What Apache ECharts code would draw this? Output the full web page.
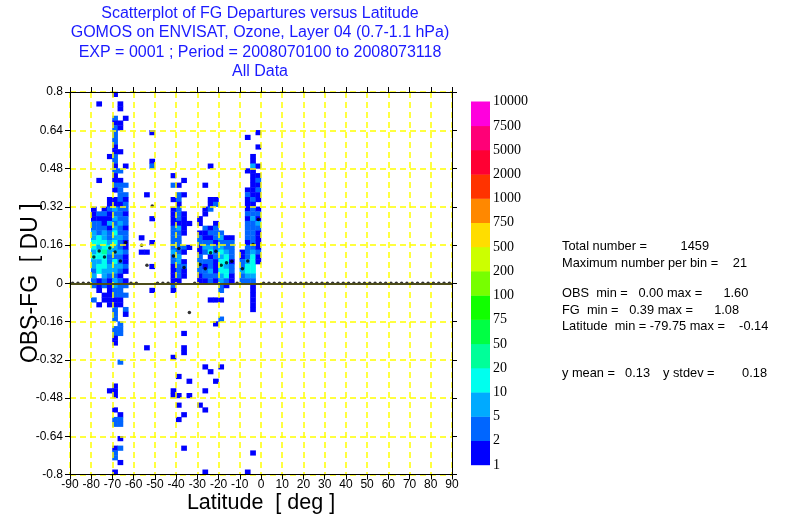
<!DOCTYPE html>
<html>
<head>
<meta charset="utf-8">
<script src="https://cdn.jsdelivr.net/npm/echarts@6/dist/echarts.min.js"></script>
<style>
html, body { margin: 0; padding: 0; background: #fff; }
#main { width: 791px; height: 518px; }
</style>
</head>
<body>
<div id="main"></div>
<script>
// latitude bins (lower edge, deg) that hold observations, 2.5 deg wide
var latBins = [-80, -77.5, -75, -72.5, -70, -67.5, -65, -57.5, -55, -52.5,
    -42.5, -40, -37.5, -35, -30, -27.5, -25, -22.5, -20, -17.5, -15, -10, -7.5, -5, -2.5];
// centre of the first (highest) OBS-FG bin of each column, bins 0.02 DU, going down
var depTop = [0.31, 0.75, 0.31, 0.53, 0.79, 0.75, 0.69, 0.19, 0.37, 0.63,
    0.45, 0.41, 0.43, 0.25, 0.27, 0.41, 0.49, 0.35, 0.21, 0.19, 0.19, 0.13, 0.61, 0.53, 0.63];
// number of obs per bin, one list per latitude column
var binCounts = [
    [1,1,1,3,3,7,7,13,13,7,13,7,7,3,7,3,3,0,0,3],
    [1,0,0,0,0,0,0,0,0,0,0,0,0,0,0,0,1,0,0,0,0,0,0,3,1,3,3,3,13,13,7,13,13,7,13,13,0,1,1,1,0,0,1],
    [1,3,1,1,3,7,7,13,13,22,13,13,13,7,7,3,3,0,1,1],
    [1,0,0,0,0,0,0,0,0,1,1,3,1,1,7,1,3,3,7,13,7,3,3,7,7,3,1,1,1,1,1,1,0,0,0,0,0,0,0,0,0,0,0,0,0,0,0,0,0,1],
    [1,0,0,0,0,3,1,3,3,3, 3,1,1,3,3,1,3,1,1,3, 1,0,1,1,7,3,7,3,7,13, 7,13,7,7,3,13,7,7,3,7,
     7,3,3,1,1,3,3,3,0,3, 3,1,1,0,0,0,0,0,0,0, 0,1,1,1,0,0,1,0,3,3, 0,0,0,0,1,3,3,0,0,1],
    [1,1,0,0,1,1,0,0,0,0, 1,0,0,0,3,0,1,3,3,3, 3,1,3,3,3,7,3,3,7,3, 3,7,3,3,7,3,1,3,3,3,
     3,1,1,0,0,0,3,3,3,0, 0,0,0,0,3,0,0,0,0,0, 0,0,0,0,0,1,3,3,0,0, 1,0,3,0,0,1],
    [1,0,0,0,0,0,0,0,0,0, 1,0,0,0,3,0,3,1,3,3, 1,3,3,1,3,3,1,1,3,1, 1,3,1,0,1,3,0,3,0,0,3,1],
    [1,0,0,1],
    [1,0,0,0,0,0,0,0,0,0,0,0,1,0,0,0,0,0,0,0,0,0,0,0,0,0,0,0,0,0,0,0,1],
    [1,0,0,0,0,0,1,3,0,0,0,0,0,0,0,0,0,0,1,0,0,0,0,1,0,0,0,0,1,0,0,0,0,1],
    [1,0,3,0,0,1,0,1,1,1,1,3,3,3,3,3,7,3,3,1,1,1,1,3,1,0,0,0,0,0,0,0,0,0,0,0,0,0,1,0,0,0,0,0,0,1,1],
    [1,0,3,3,1,3,3,3,1,7,3,3,3,3,3,7,7,3,3,3,1,0,0,0,0,0,0,0,0,0,0,0,0,0,0,0,0,0,0,0,1,0,0,0,1,0,1,0,0,1],
    [1,0,0,1,0,0,0,1,1,1,1,1,0,0,3,1,0,1,3,1,1,0,0,0,0,0,0,0,0,0,0,0,1,0,0,1,1,0,0,0,0,0,0,0,0,0,0,0,0,1,0,0,0,0,0,0,1],
    [1,0,0,0,0,1,0,0,0,0,0,0,0,0,0,0,0,0,0,0,0,0,0,0,0,0,0,0,0,0,0,0,0,1,0,0,1],
    [1,1,0,1,3,3,1,1,3,3,3,3,1,1,0,0,0,0,0,0,0,0,0,0,0,0,0,0,0,0,0,0,0,0,0,0,0,0,0,1],
    [1,0,0,0,0,1,1,0,0,3,1,1,3,7,3,0,3,1,3,3,1,0,0,0,0,0,0,0,0,0,0,0,0,0,0,0,0,0,1,0,0,0,0,1,0,0,0,1,0,0,0,0,0,0,0,0,0,0,0,0,1],
    [1,0,0,0,0,0,0,1,1,3,0,0,0,1,3,1,3,7,13,1,3,3,7,3,3,0,0,0,1,0,0,0,0,0,0,0,0,0,0,0,0,0,0,1],
    [1,3,0,0,0,1,3,3,3,1,3,3,3,1,1,1,3,1,0,0,0,1,0,0,0,0,1,0,0,0,0,0,0,0,0,0,0,0,1],
    [3,7,3,7,13,7,13,13,13,7,7,3,3,0,1,0,0,0,3,0,0,0,0,0,0,0,0,0,1],
    [1,3,3,7,13,13,7,13,13,3,1],
    [1,3,3,3,3,1,3,3,1,1],
    [1,1,3,3,7,3,3],
    [1,0,0,0,0,0,0,1,0,0,0,1,3,1,1,1,3,1,3,3,3,3,1,3,3,3,7,13,13,7,3,
     0,0,0,0,0,0,0,0,0,0,0,0,0,0,0,0,0,0,0,0,0,0,0,0,0,0,0,0,0,0,0,0,0,0,0,0,0,0,0,1],
    [1,1,7,1,1,1,1,1,1,3,1,3,3,7,3,3,3,3,3,3,7,13,13,13,13,7,3,1,1,1,1,1,1,
     0,0,0,0,0,0,0,0,0,0,0,0,0,0,0,0,0,0,0,0,0,0,0,0,0,0,0,0,0,1],
    [1,0,0,1,0,0,0,1,0,1,3,1,3,1,1,0,1,3,1,7,3,1,1,1,1,3,1,1]
];
// mean OBS-FG per 2.5 deg latitude bin, -90 .. 90
var meanDep = [0, 0, 0, 0, 0.11, 0.135, 0.11, 0.147, 0.131, 0.093, 0.17, 0, 0, 0.159, 0.075, 0.323,
    0, 0, 0, 0.114, 0.145, 0.066, -0.122, 0, 0.078, 0.061, 0.128, 0.134, 0.075, 0.086, 0.092, 0,
    0.061, 0.093, 0.162, 0.267, 0, 0, 0, 0, 0, 0, 0, 0, 0, 0, 0, 0,
    0, 0, 0, 0, 0, 0, 0, 0, 0, 0, 0, 0, 0, 0, 0, 0, 0, 0, 0, 0, 0, 0, 0, 0];
// colour scale
var levelLimits = [1, 2, 5, 10, 20, 50, 75, 100, 200, 500, 750, 1000, 2000, 5000, 7500, 10000];
var levelColors = ['#0000ff', '#0066ff', '#00aaff', '#00ffee', '#00ff99', '#00ff44', '#11ff00', '#77ff00',
    '#ccff00', '#ffdd00', '#ff8800', '#ff3300', '#ff0033', '#ff0077', '#ff00dd'];

var latStep = 2.5;
var depStep = 0.02;

var cells = [];
latBins.forEach(function (lat, c) {
    binCounts[c].forEach(function (n, i) {
        if (n > 0) {
            cells.push([lat + latStep / 2, +(depTop[c] - depStep * i).toFixed(3), n]);
        }
    });
});

var means = meanDep.map(function (v, j) {
    return [-90 + latStep * (j + 0.5), v];
});

function levelColor(n) {
    var k = 0;
    while (k < levelColors.length - 1 && n >= levelLimits[k + 1]) k++;
    return levelColors[k];
}

var font = 'Liberation Sans, Arial, sans-serif';

function txt(s, x, y, align, size, color) {
    return {
        type: 'text',
        x: x,
        y: y,
        style: {
            text: s,
            font: (size || 12.8) + 'px ' + font,
            fill: color || '#000',
            textAlign: align || 'left',
            textVerticalAlign: 'middle'
        }
    };
}

var dom = document.getElementById('main');
var myChart = echarts.init(dom, null, {
    renderer: 'canvas',
    useDirtyRect: false
});

var option;

option = {
    animation: false,
    backgroundColor: '#fff',
    grid: [
        { left: 70, right: 339, top: 92, bottom: 43.5, outerBoundsMode: 'none' },
        { left: 471, width: 19, top: 101.7, height: 363.3, outerBoundsMode: 'none' }
    ],
    xAxis: [
        {
            gridIndex: 0, type: 'value', min: -90, max: 90, interval: 10, position: 'bottom', z: 5,
            axisLine: { onZero: false, lineStyle: { color: '#000', width: 1 } },
            axisTick: { show: true, inside: false, length: 5, lineStyle: { color: '#000' } },
            axisLabel: { color: '#000', fontSize: 12, fontFamily: font, margin: 4 },
            splitLine: { show: true, lineStyle: { color: '#ffff00', width: 1.5, type: [6, 4] } },
            name: 'Latitude  [ deg ]', nameLocation: 'middle', nameGap: 18, nameMoveOverlap: false,
            nameTextStyle: { color: '#000', fontSize: 21.5, fontFamily: font }
        },
        {
            gridIndex: 0, type: 'value', min: -90, max: 90, interval: 10, position: 'top', z: 5,
            axisLine: { onZero: false, lineStyle: { color: '#000', width: 1 } },
            axisTick: { show: true, inside: false, length: 5, lineStyle: { color: '#000' } },
            axisLabel: { show: false },
            splitLine: { show: false }
        },
        { gridIndex: 1, type: 'value', min: 0, max: 1, show: false }
    ],
    yAxis: [
        {
            gridIndex: 0, type: 'value', min: -0.8, max: 0.8, interval: 0.16, position: 'left', z: 5,
            axisLine: { onZero: false, lineStyle: { color: '#000', width: 1 } },
            axisTick: { show: true, inside: false, length: 5, lineStyle: { color: '#000' } },
            axisLabel: {
                color: '#000', fontSize: 12, fontFamily: font, margin: 7,
                formatter: function (v) { return String(+v.toFixed(2)); }
            },
            splitLine: { show: true, lineStyle: { color: '#ffff00', width: 1.5, type: [6, 4] } },
            name: 'OBS-FG  [ DU ]', nameLocation: 'middle', nameGap: 28, nameMoveOverlap: false,
            nameTextStyle: { color: '#000', fontSize: 23, fontFamily: font }
        },
        {
            gridIndex: 0, type: 'value', min: -0.8, max: 0.8, interval: 0.16, position: 'right', z: 5,
            axisLine: { onZero: false, lineStyle: { color: '#000', width: 1 } },
            axisTick: { show: true, inside: false, length: 5, lineStyle: { color: '#000' } },
            axisLabel: { show: false },
            splitLine: { show: false }
        },
        {
            gridIndex: 1, type: 'value', min: 0, max: 15, interval: 1, position: 'right',
            axisLine: { show: false },
            axisTick: { show: false },
            splitLine: { show: false },
            axisLabel: {
                color: '#000', fontSize: 14, fontFamily: 'Liberation Serif, Times New Roman, serif', margin: 3,
                showMinLabel: true, showMaxLabel: true,
                formatter: function (v) { return String(levelLimits[Math.round(v)]); }
            }
        }
    ],
    series: [
        {
            name: 'bins',
            type: 'custom',
            xAxisIndex: 0,
            yAxisIndex: 0,
            z: 2,
            data: cells,
            renderItem: function (params, api) {
                var p = api.coord([api.value(0), api.value(1)]);
                var s = api.size([latStep, depStep]);
                return {
                    type: 'rect',
                    shape: { x: p[0] - s[0] / 2 - 0.2, y: p[1] - s[1] / 2 - 0.2, width: s[0] + 0.4, height: s[1] + 0.4 },
                    style: { fill: levelColor(api.value(2)) }
                };
            },
            markLine: {
                silent: true,
                symbol: ['none', 'none'],
                label: { show: false },
                lineStyle: { color: '#4d4d1a', width: 2, type: 'solid' },
                data: [{ yAxis: 0 }]
            }
        },
        {
            name: 'mean',
            type: 'scatter',
            xAxisIndex: 0,
            yAxisIndex: 0,
            z: 4,
            symbol: 'circle',
            symbolSize: 3.5,
            itemStyle: { color: '#000' },
            data: means
        },
        {
            name: 'colorbar',
            type: 'custom',
            xAxisIndex: 2,
            yAxisIndex: 2,
            data: levelColors.map(function (c, i) { return [i]; }),
            renderItem: function (params, api) {
                var i = api.value(0);
                var p0 = api.coord([0, i]);
                var p1 = api.coord([1, i + 1]);
                return {
                    type: 'rect',
                    shape: { x: p0[0], y: p1[1] - 0.2, width: p1[0] - p0[0], height: p0[1] - p1[1] + 0.4 },
                    style: { fill: levelColors[i] }
                };
            }
        }
    ],
    graphic: [
        txt('Scatterplot of FG Departures versus Latitude', 260, 14, 'center', 16, '#1a1aff'),
        txt('GOMOS on ENVISAT, Ozone, Layer 04 (0.7-1.1 hPa)', 260, 33, 'center', 16, '#1a1aff'),
        txt('EXP = 0001 ; Period = 2008070100 to 2008073118', 260, 53, 'center', 16, '#1a1aff'),
        txt('All Data', 260, 72, 'center', 16, '#1a1aff'),
        txt('Total number =', 562, 246),
        txt('1459', 709, 246, 'right'),
        txt('Maximum number per bin =', 562, 263),
        txt('21', 747, 263, 'right'),
        txt('OBS  min =   0.00 max =      1.60', 562, 293),
        txt('FG  min =   0.39 max =      1.08', 562, 310),
        txt('Latitude  min = -79.75 max =    -0.14', 562, 326),
        txt('y mean =', 562, 373),
        txt('0.13', 650, 373, 'right'),
        txt('y stdev =', 663, 373),
        txt('0.18', 767, 373, 'right')
    ]
};

if (option && typeof option === 'object') {
    myChart.setOption(option);
}

window.addEventListener('resize', myChart.resize);
</script>
</body>
</html>
